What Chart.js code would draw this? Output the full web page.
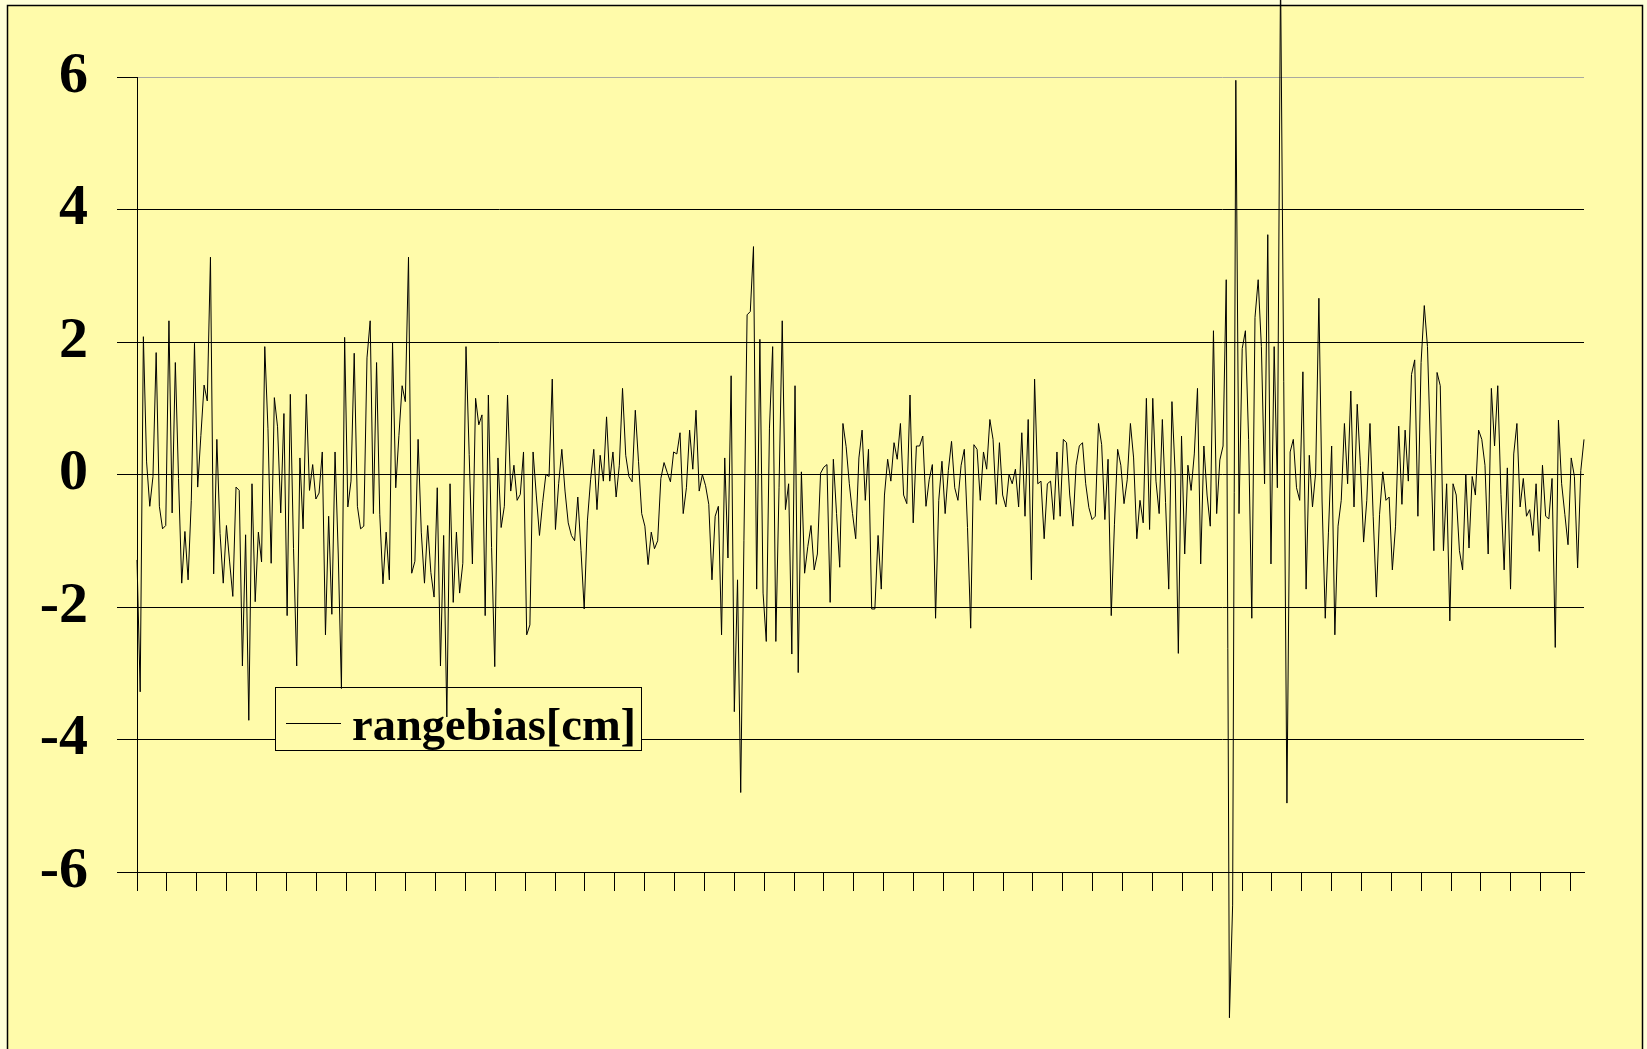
<!DOCTYPE html>
<html>
<head>
<meta charset="utf-8">
<script src="https://cdn.jsdelivr.net/npm/chart.js@4"></script>
<style>
  html, body { margin: 0; padding: 0; background: #FFFFD8; }
  canvas { display: block; }
</style>
</head>
<body>
<canvas id="graph" width="1647" height="1049"></canvas>
<script>
const seriesName = "rangebias[cm]";

const rangebias = [
  -1.29, -3.28, 2.08, 0.19, -0.48, -0.03, 1.84, -0.48, -0.82, -0.77,
  2.32, -0.58, 1.69, -0.06, -1.64, -0.86, -1.59, -0.39, 1.98, -0.19,
  0.59, 1.35, 1.11, 3.28, -1.5, 0.53, -0.89, -1.64, -0.77, -1.32,
  -1.84, -0.19, -0.24, -2.89, -0.91, -3.71, -0.14, -1.92, -0.87, -1.32,
  1.93, 0.69, -1.34, 1.16, 0.72, -0.58, 0.92, -2.13, 1.21, -1.12,
  -2.89, 0.25, -0.82, 1.21, -0.24,
  0.15, -0.37, -0.28, 0.34, -2.42, -0.63, -2.11, 0.34, -1.2, -3.23,
  2.07, -0.49, -0.1, 1.83, -0.48, -0.82, -0.78, 1.76, 2.32, -0.59,
  1.69, -0.6, -1.65, -0.87, -1.59, 1.99, -0.2, 0.59, 1.34, 1.1,
  3.28, -1.49, -1.31, 0.53, -0.87, -1.64, -0.77, -1.48, -1.85, -0.2,
  -2.89, -0.92, -3.66, -0.14, -1.93, -0.87, -1.79, -1.34, 1.93,
  0.3, -1.35, 1.15, 0.75, 0.9, -2.13, 1.2, -1.1, -2.9, 0.25,
  -0.8, -0.48, 1.2, -0.25, 0.14, -0.39, -0.3, 0.34, -2.42, -2.27,
  0.34, -0.31, -0.92, -0.42, 0.0, -0.03, 1.44, -0.83, -0.14, 0.38,
  -0.25, -0.73, -0.92, -1.0, -0.34, -1.15, -2.03, -0.7, -0.08, 0.38,
  -0.53, 0.29, -0.1, 0.87, -0.1, 0.34, -0.34, 0.14, 1.3, 0.29,
  -0.03,
  -0.11, 0.97, 0.2, -0.59, -0.78, -1.36, -0.87, -1.12, -1.0, -0.06,
  0.18, 0.03, -0.11, 0.34, 0.31, 0.63, -0.59, -0.2, 0.67, 0.08,
  0.97, -0.25, 0.0, -0.17, -0.45, -1.59, -0.63, -0.48, -2.42, 0.25,
  -1.26, 1.49, -3.58, -1.59, -4.8, -1.0, 2.41, 2.46, 3.44, -1.73,
  2.04, -1.79, -2.52, 0.7, 1.93, -2.52, -0.2, 2.32, -0.53, -0.14,
  -2.71, 1.34, -2.99, 0.04, -1.49, -1.09, -0.77, -1.44, -1.2, 0.02,
  0.11, 0.15, -1.93, 0.23, -0.59, -1.4, 0.77, 0.42, -0.14, -0.59,
  -0.97, 0.25, 0.67, -0.39, 0.38, -2.03, -2.03, -0.92, -1.73, -0.31,
  0.23, -0.1, 0.48, 0.23, 0.77, -0.31, -0.44, 1.2, -0.73, 0.43,
  0.43, 0.58, -0.48, -0.08, 0.15, -2.17, -0.39, 0.2, -0.59, 0.06,
  0.5,
  -0.2, -0.39, 0.14, 0.38, -0.8, -2.32, 0.45, 0.38, -0.39, 0.34,
  0.08, 0.83, 0.53, -0.45, 0.48, -0.31, -0.49, 0.0, -0.14, 0.08,
  -0.49, 0.63, -0.63, 0.83, -1.59, 1.44, -0.14, -0.1, -0.97, -0.14,
  -0.1, -0.68, 0.34, -0.63, 0.53, 0.48, -0.31, -0.78, 0.14, 0.43,
  0.48, -0.14, -0.5, -0.68, -0.63, 0.77, 0.45, -0.68, 0.23,
  -2.13, -0.75, 0.38, 0.14, -0.44, -0.08, 0.77, 0.25, -0.97, -0.39,
  -0.73, 1.15, -0.83, 1.15, -0.1, -0.59, 0.83, -0.42, -1.73, 1.1,
  0.03, -2.7, 0.58, -1.2, 0.14, -0.24, 0.31, 1.3, -1.35, 0.43,
  -0.31, -0.78, 2.17, -0.59, 0.22, 0.43, 2.94, -8.2, -6.5, 5.95,
  -0.59, 1.9, 2.17, 0.53, -2.17, 2.37, 2.94, 1.93, -0.14, 3.62,
  -1.35, 1.93, -0.2, 7.6, 1.4, -4.96, 0.34, 0.53, -0.2, -0.39,
  1.55, -1.73, 0.29, -0.49, 0.03, 2.66, -0.4, -2.17, -0.87, 0.43,
  -2.42, -0.78, -0.39, 0.77, -0.14, 1.26, -0.49, 1.06, 0.14, -1.02,
  -0.39, 0.77, -0.63, -1.85, -0.6, 0.04, -0.39, -0.34, -1.44, -0.78,
  0.73, -0.45, 0.67, -0.1, 1.51, 1.73, -0.63, 1.69, 2.55, 1.93,
  0.3,
  -1.15, 1.54, 1.34, -1.15, -0.14, -2.21, -0.14, -0.31, -1.15, -1.44,
  0.0, -1.11, -0.03, -0.31, 0.67, 0.53, 0.14, -1.2, 1.3, 0.43,
  1.34, -0.3, -1.44, 0.1, -1.73, 0.31, 0.77, -0.49, -0.06, -0.63,
  -0.53, -0.92, -0.14, -1.16, 0.14, -0.63, -0.67, -0.06, -2.61, 0.82,
  -0.14, -0.6, -1.06, 0.25, -0.03, -1.41, 0.06, 0.53
];

const yTickValues = [-6, -4, -2, 0, 2, 4, 6];
const xTickCount = 49;      // tick marks along the category axis
const xTickEvery = 9.35;    // observations between two tick marks

const outerColor = "#FFFFD8";
const plotColor = "#FFFBAA";

// chart background and its black frame
const frame = {
  id: "frame",
  beforeDraw(chart) {
    const c = chart.ctx;
    c.save();
    c.fillStyle = outerColor;
    c.fillRect(0, 0, chart.width, chart.height);
    c.fillStyle = plotColor;
    c.fillRect(7, 5, 1636, chart.height);
    c.strokeStyle = "#000";
    c.lineWidth = 1.5;
    c.strokeRect(7.5, 5.5, 1635, chart.height + 20);
    c.restore();
  }
};

// legend box sits inside the plot, under the line
const legendBox = {
  id: "legendBox",
  beforeDatasetsDraw(chart) {
    const c = chart.ctx;
    c.save();
    c.fillStyle = plotColor;
    c.fillRect(275.5, 687.5, 366, 63);
    c.strokeStyle = "#000";
    c.lineWidth = 1;
    c.strokeRect(275.5, 687.5, 366, 63);
    c.beginPath();
    c.moveTo(286, 723.5);
    c.lineTo(341, 723.5);
    c.stroke();
    c.fillStyle = "#000";
    c.font = 'bold 46.5px "Liberation Serif"';
    c.textBaseline = "alphabetic";
    c.fillText(seriesName, 352, 740);
    c.restore();
  }
};

const graph = document.getElementById("graph").getContext("2d");

let myChart = new Chart(graph, {
  type: "line",
  data: {
    datasets: [
      {
        label: seriesName,
        data: rangebias.map((v, i) => ({ x: i, y: v })),
        borderColor: "#000",
        borderWidth: 1,
        pointRadius: 0,
        tension: 0,
        fill: false,
        clip: false,
      }
    ]
  },
  options: {
    responsive: false,
    devicePixelRatio: 1,
    animation: false,
    layout: {
      padding: { left: 0, right: 63, top: 77, bottom: 0 },
    },
    plugins: {
      legend: { display: false },
      tooltip: { enabled: false },
    },
    scales: {
      x: {
        type: "linear",
        min: 0,
        max: rangebias.length - 1,
        afterBuildTicks(scale) {
          scale.ticks = [];
          for (let k = 0; k < xTickCount; k++) scale.ticks.push({ value: k * xTickEvery });
        },
        afterFit(scale) { scale.height = 177; },
        grid: {
          drawOnChartArea: false,
          drawTicks: true,
          tickLength: 19,
          color: "#000",
          lineWidth: 1,
        },
        border: { display: true, color: "#000", width: 1 },
        ticks: { display: false },
      },
      y: {
        min: -6,
        max: 6,
        afterBuildTicks(scale) {
          scale.ticks = yTickValues.map(v => ({ value: v }));
        },
        afterFit(scale) { scale.width = 137; },
        grid: {
          color: ctx => (ctx.tick && ctx.tick.value === 6 ? "#A9A9A0" : "#000"),
          tickColor: "#000",
          tickLength: 20,
          lineWidth: 1,
        },
        border: { display: true, color: "#000", width: 1 },
        ticks: {
          color: "#000",
          padding: 29,
          font: { family: "Liberation Serif", size: 58, weight: "bold" },
        },
      },
    },
  },
  plugins: [frame, legendBox],
});
</script>
</body>
</html>
